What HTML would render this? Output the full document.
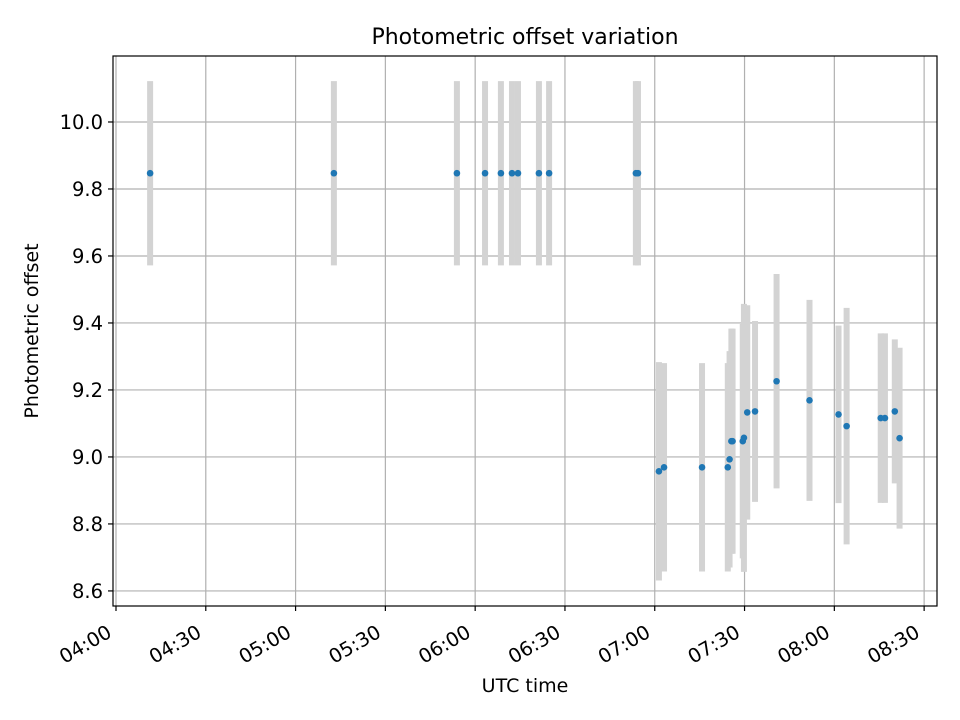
<!DOCTYPE html>
<html><head><meta charset="utf-8"><style>
body{margin:0;background:#fff}
svg{display:block;font-family:"DejaVu Sans","Liberation Sans",sans-serif}
</style></head><body>
<svg id="chart" width="960" height="720">
<rect width="960" height="720" fill="#fff"/>
<g id="grid"></g><g id="bars"></g><g id="pts"></g><g id="axes"></g>
<text x="525" y="44" font-size="22" text-anchor="middle">Photometric offset variation</text>
<text x="525" y="692" font-size="19" text-anchor="middle">UTC time</text>
<text transform="translate(38,331) rotate(-90)" font-size="19" text-anchor="middle">Photometric offset</text>
</svg>
<script>
// minutes after 04:00 UTC
const times=[11.4,72.8,113.9,123.3,128.6,132.3,134.3,141.3,144.7,173.7,174.4,181.4,183.1,195.8,204.4,205.0,205.6,206.0,209.4,209.8,210.9,213.5,220.7,231.7,241.4,244.1,255.5,256.9,260.2,261.8];
const offsets=[9.847,9.847,9.847,9.847,9.847,9.847,9.847,9.847,9.847,9.847,9.847,8.957,8.969,8.969,8.969,8.993,9.047,9.047,9.047,9.057,9.133,9.136,9.226,9.169,9.127,9.092,9.116,9.116,9.136,9.056];
const errors=[0.275,0.275,0.275,0.275,0.275,0.275,0.275,0.275,0.275,0.275,0.275,0.326,0.311,0.311,0.311,0.323,0.336,0.336,0.35,0.40,0.32,0.27,0.32,0.30,0.265,0.353,0.253,0.253,0.215,0.27];
const yTicks=[8.6,8.8,9.0,9.2,9.4,9.6,9.8,10.0];
const xTickMinutes=[0,30,60,90,120,150,180,210,240,270];
const xTickLabels=["04:00","04:30","05:00","05:30","06:00","06:30","07:00","07:30","08:00","08:30"];
const L=113,R=937,T=56,B=606,xmin=-1,xmax=274.3,ymin=8.555,ymax=10.197;
const X=m=>L+(m-xmin)/(xmax-xmin)*(R-L);
const Y=v=>B-(v-ymin)/(ymax-ymin)*(B-T);
const NS="http://www.w3.org/2000/svg";
function mk(p,tag,a){const e=document.createElementNS(NS,tag);for(const k in a)e.setAttribute(k,a[k]);p.appendChild(e);return e;}
const grid=document.getElementById('grid'),axes=document.getElementById('axes'),bars=document.getElementById('bars'),pts=document.getElementById('pts');
yTicks.forEach(v=>{const y=Y(v);
 const g=mk(grid,'line',{x1:L,x2:R,y1:y,y2:y,stroke:'#b0b0b0','stroke-width':1.2});
 
 
 mk(axes,'line',{x1:L-5,x2:L,y1:y,y2:y,stroke:'#000','stroke-width':1.2});
 const t=mk(axes,'text',{x:L-10,y:y+7,'font-size':19.5,'text-anchor':'end'});t.textContent=v.toFixed(1);
 
 
});
xTickMinutes.forEach((m,i)=>{const x=X(m);
 const g=mk(grid,'line',{x1:x,x2:x,y1:T,y2:B,stroke:'#b0b0b0','stroke-width':1.2});
 
 
 mk(axes,'line',{x1:x,x2:x,y1:B,y2:B+5,stroke:'#000','stroke-width':1.2});
 const t=mk(axes,'text',{transform:`translate(${x-3},${B+30}) rotate(-30)`,'font-size':19.5,'text-anchor':'end'});t.textContent=xTickLabels[i];
 
 
});
const frame=mk(axes,'rect',{x:L,y:T,width:R-L,height:B-T,fill:'none',stroke:'#000','stroke-width':1.2});


times.forEach((m,i)=>{const x=X(m);
 const b=mk(bars,'line',{x1:x,x2:x,y1:Y(offsets[i]+errors[i]),y2:Y(offsets[i]-errors[i]),stroke:'#d3d3d3','stroke-width':6});
 
 
 const c=mk(pts,'circle',{cx:x,cy:Y(offsets[i]),r:3.3,fill:'#1f77b4'});
 
 
});
</script>
</body></html>
